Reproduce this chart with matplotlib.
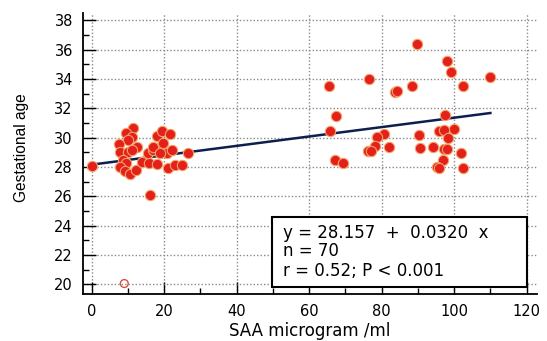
import numpy as np
import matplotlib.pyplot as plt
from matplotlib.patches import Rectangle

plt.rcParams["font.family"] = ["DejaVu Sans"]

# ---- data ----
saa_low = [0.2, 11.5, 9.6, 11.0, 10.1, 7.6, 12.4, 7.8, 10.1, 11.0, 8.7, 9.5,
           7.8, 9.2, 10.6, 12.2, 13.8, 15.9, 18.1, 16.1, 15.6, 17.0, 18.8,
           17.0, 20.7, 22.1, 18.8, 17.9, 19.3, 21.6, 21.1, 23.0, 24.8, 26.7,
           19.8]
ga_low = [28.05, 30.64, 30.3, 30.07, 29.84, 29.55, 29.38, 29.04, 29.04, 29.16,
          28.48, 28.25, 28.0, 27.73, 27.52, 27.8, 28.36, 28.25, 28.2, 26.1,
          28.93, 29.16, 29.38, 29.38, 28.93, 29.16, 28.93, 30.1, 30.47, 30.23,
          27.9, 28.14, 28.14, 28.93, 29.6]

saa_high = [89.7, 98.1, 99.2, 109.9, 76.4, 65.5, 88.4, 83.6, 84.3, 102.4,
            67.3, 97.4, 65.7, 100.0, 95.8, 97.3, 98.4, 80.7, 78.7, 90.2,
            78.2, 76.2, 77.1, 82.1, 90.6, 94.2, 97.3, 98.0, 101.8, 96.8,
            67.1, 69.4, 95.2, 95.9, 102.5]
ga_high = [36.4, 35.25, 34.45, 34.15, 34.0, 33.55, 33.5, 33.1, 33.2, 33.55,
           31.45, 31.55, 30.45, 30.6, 30.45, 30.5, 30.0, 30.25, 30.05, 30.2,
           29.4, 29.1, 29.1, 29.35, 29.3, 29.35, 29.2, 29.2, 28.95, 28.5,
           28.5, 28.3, 28.0, 27.95, 27.95]

outlier_x = [9.0]
outlier_y = [20.05]

intercept = 28.157
slope = 0.0320
fit_x = np.array([0, 110])

stats_lines = ["y = 28.157  +  0.0320  x", "n = 70", "r = 0.52; P < 0.001"]

saa = saa_low + saa_high
ga = ga_low + ga_high

fig = plt.figure(figsize=(5.47, 3.41), dpi=100)
ax = fig.add_axes([0.151, 0.138, 0.831, 0.824])

ax.set_xlim(-2.5, 122.9)
ax.set_ylim(19.34, 38.5)

ax.grid(True, color="#8a8a8a", linestyle=(0, (1, 1.5)), linewidth=1.0)
ax.set_axisbelow(True)

ax.plot(fit_x, intercept + slope * fit_x, color="#0d1f4f", lw=1.8, zorder=2)

ax.scatter(saa, ga, s=55, color="#e3201b", edgecolors="#f3a468",
           linewidths=0.8, zorder=3)
ax.scatter(outlier_x, outlier_y, s=32, facecolors="none",
           edgecolors="#d2553a", linewidths=1.0, zorder=3)

ax.set_xticks(np.arange(0, 121, 20))
ax.set_yticks(np.arange(20, 39, 2))
ax.set_xticks(np.arange(10, 121, 20), minor=True)
ax.set_yticks(np.arange(21, 38, 2), minor=True)
ax.tick_params(which="major", direction="in", length=9, width=1,
               labelsize=10.5, pad=7)
ax.tick_params(which="minor", direction="in", length=4, width=1)

ax.spines["top"].set_visible(False)
ax.spines["right"].set_visible(False)
ax.spines["left"].set_linewidth(1.3)
ax.spines["bottom"].set_linewidth(1.3)

# axis labels
fig.text(0.5665, 0.015, "SAA microgram /ml", fontsize=12, ha="center",
         va="baseline")
fig.text(0.0397, 0.567, "Gestational age", fontsize=11.2, rotation=90,
         ha="center", va="center", family="Liberation Sans")

# ---- equation box ----
box = Rectangle((0.4171, 0.0238), 0.5596, 0.249, transform=ax.transAxes,
                facecolor="white", edgecolor="black", lw=1.5, zorder=4)
ax.add_patch(box)
for t, yb in zip(stats_lines, [0.2004, 0.1352, 0.0641]):
    ax.text(0.4417, yb, t, transform=ax.transAxes, fontsize=12,
            va="baseline", ha="left", zorder=5)

fig.savefig("out.png", dpi=100)
